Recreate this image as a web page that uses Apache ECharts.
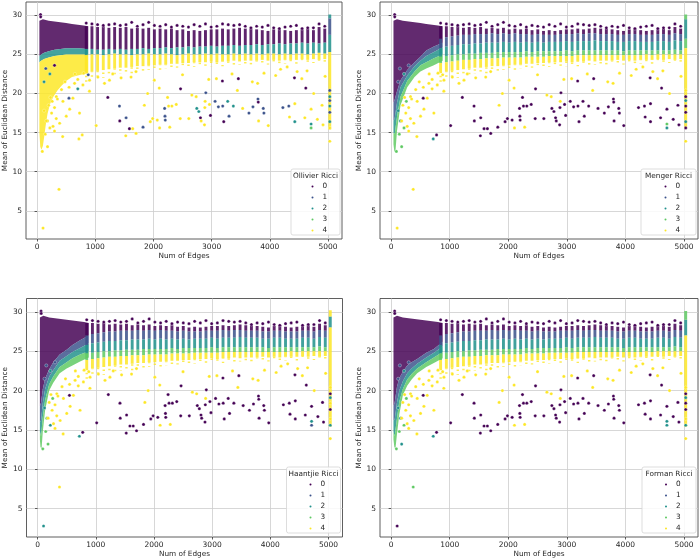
<!DOCTYPE html>
<html>
<head>
<meta charset="UTF-8">
<title>Mean of Euclidean Distance vs Num of Edges</title>
<script src="https://cdn.jsdelivr.net/npm/echarts@6/dist/echarts.min.js"></script>
<style>html,body{margin:0;padding:0;background:#fff;}</style>
</head>
<body>
<div id="chart" style="width:700px;height:560px;"></div>
<script>
// ---------- values ----------
var classes = ['0', '1', '2', '3', '4'];
var panelTitles = ['Ollivier Ricci', 'Menger Ricci', 'Haantjie Ricci', 'Forman Ricci'];
var xTicks = [0, 1000, 2000, 3000, 4000, 5000];
var yTicks = [5, 10, 15, 20, 25, 30];

// the vertical strips of points (one strip per edge count, x >= ~850)
var colX = [845,943,1040,1138,1235,1333,1430,1528,1626,1723,1821,1918,2016,2114,2211,2309,2406,2504,2602,2699,
  2797,2894,2992,3090,3187,3285,3382,3480,3578,3675,3773,3870,3968,4066,4163,4261,4358,4456,4554,4651,4749,4846,4944];
var colTop = [28.6,28.6,28.5,28.6,28.4,28.5,28.4,28.5,28.3,28.4, 28.3,28.4,28.2,28.3,28.2,28.3,28.1,28.2,28.0,28.1,
  28.0,28.1,28.2,28.2,28.3,28.2,28.3,28.4,28.3,28.3, 28.2,28.1,28.0,28.2,28.3,28.1,28.0,28.1,28.2,28.3, 28.1,28.5,28.3];
var colPeak = [29.0,28.9,28.8,28.7,28.8,28.9,28.7,28.8,29.1,28.6, 28.8,29.1,28.7,28.6,28.8,28.5,28.7,28.6,28.5,28.8,
  28.6,28.9,28.5,28.6,28.9,28.8,28.7,28.8,28.6,28.4, 28.6,28.5,28.7,28.4,28.3,28.5,28.6,28.7,28.3,28.4, 28.4,28.9,28.6];
var colBot = [22.6,22.8,22.9,23.0,23.1,23.2,23.3,23.3,23.4,23.5, 23.5,23.6,23.6,23.7,23.7,23.8,23.8,23.9,23.9,24.0,
  24.0,24.0,24.1,24.0,24.1,24.1,24.2,24.1,24.2,24.2, 24.2,24.3,24.2,24.3,24.2,24.3,24.3,24.3,24.4,24.3, 24.4,24.3,24.4];
var colTail = [21.5,21.8,22.0,22.0,22.3,22.4,22.5,22.6,22.6,22.8, 22.8,23.0,23.0,23.0,23.2,23.2,23.3,23.3,23.4,23.4,
  23.5,23.5,23.5,23.6,23.5,23.6,23.6,23.7,23.6,23.7, 23.7,23.8,23.7,23.8,23.8,23.8,23.9,23.8,23.9,23.9, 23.9,23.9,24.0];

// Ollivier: where class 0 ends and where class 4 starts in each strip
var p1ColB0 = [25.7,25.7,25.6,25.6,25.7,25.6,25.7,25.6,25.7,25.7, 25.8,25.7,25.8,25.8,25.9,25.8,25.9,25.9,26.0,25.9,
  26.0,26.0,26.1,26.0,26.1,26.1,26.2,26.1,26.2,26.2, 26.3,26.2,26.3,26.3,26.4,26.3,26.4,26.4,26.5,26.4, 26.5,26.4,26.5];
var p1ColB3 = [24.9,25.0,25.0,24.9,25.0,25.1,25.0,25.0,24.9,25.0, 25.0,25.1,25.0,25.0,25.1,25.0,24.9,25.0,25.1,25.0,
  25.0,25.1,25.0,25.1,25.0,25.0,25.1,25.0,25.1,25.0, 25.1,25.0,25.1,25.1,25.0,25.1,25.0,25.1,25.1,25.0, 25.1,25.2,25.1];
// Menger / Haantjie / Forman: class borders inside each strip (0|1, 1|2, 2|3, 3|4)
var ricciColB0 = [27.0,27.2,27.3,27.4,27.5,27.5,27.6,27.6,27.6,27.7, 27.6,27.7,27.6,27.7,27.6,27.6,27.5,27.6,27.5,27.5,
  27.5,27.6,27.6,27.6,27.7,27.6,27.7,27.7,27.6,27.6, 27.6,27.5,27.5,27.6,27.6,27.5,27.5,27.5,27.6,27.6, 27.5,27.7,27.6];
var ricciColB1 = [25.8,26.0,26.1,26.2,26.3,26.3,26.4,26.4,26.5,26.5, 26.5,26.6,26.5,26.6,26.5,26.6,26.5,26.6,26.5,26.6,
  26.6,26.6,26.7,26.6,26.7,26.7,26.7,26.8,26.7,26.7, 26.7,26.6,26.6,26.7,26.7,26.6,26.6,26.6,26.7,26.7, 26.6,26.8,26.7];
var ricciColB2 = [24.7,24.8,24.9,25.0,25.0,25.1,25.1,25.2,25.2,25.2, 25.3,25.3,25.3,25.3,25.3,25.4,25.3,25.4,25.4,25.4,
  25.4,25.4,25.5,25.4,25.5,25.5,25.5,25.5,25.5,25.5, 25.5,25.5,25.4,25.5,25.5,25.5,25.5,25.5,25.5,25.5, 25.5,25.6,25.5];
var ricciColB3 = [23.9,24.0,24.1,24.2,24.3,24.3,24.4,24.4,24.5,24.5, 24.5,24.6,24.6,24.6,24.6,24.7,24.7,24.7,24.7,24.8,
  24.8,24.8,24.8,24.8,24.9,24.9,24.9,24.9,24.9,24.9, 24.9,24.9,24.9,24.9,24.9,24.9,25.0,24.9,25.0,25.0, 25.0,25.0,25.0];

// the last, tall strip at ~5030 edges: [class, from, to]
var specX = 5030;
var p1Spec = [[4, 15.4, 25.3], [2, 25.3, 27.5], [1, 27.5, 29.6], [2, 29.6, 30.1]];
var p2Spec = [[4, 15.5, 25.8], [3, 25.8, 27.0], [2, 27.0, 29.5], [3, 29.5, 30.1]];
var p3Spec = [[4, 15.4, 28.0], [2, 28.0, 29.4], [4, 29.4, 30.2]];
var p4Spec = [[4, 15.4, 27.0], [2, 27.0, 29.0], [3, 29.0, 30.1]];

// the dense cloud below ~880 edges: top edge, then lower edge of each class band
var denseTop = [[40,29.3],[100,29.5],[200,29.3],[300,29.2],[400,29.1],[500,29.0],[600,28.9],[700,28.8],[800,28.7],[880,28.6]];
var p1DenseCls = [0, 2, 4];
var p1DenseLow = [
  [[40,24.8],[70,25.0],[120,25.2],[200,25.4],[300,25.6],[500,25.8],[700,25.8],[880,25.7]],
  [[40,24.0],[70,24.2],[120,24.4],[200,24.6],[300,24.8],[500,25.0],[700,25.0],[880,25.0]],
  [[40,15.0],[55,13.2],[75,12.8],[100,13.3],[125,14.6],[150,16.0],[180,17.4],[220,18.6],[280,19.6],[350,20.4],
   [420,21.0],[500,21.6],[600,22.1],[750,22.4],[880,22.6]]
];
var ricciDenseCls = [0, 1, 2, 3];
var p2DenseLow = [
  [[40,18.8],[60,19.2],[100,20.3],[160,21.7],[275,23.0],[400,24.0],[500,24.7],[600,25.5],[730,26.0],[880,26.5]],
  [[40,16.5],[60,16.8],[100,18.8],[160,20.8],[275,22.3],[400,23.5],[500,24.2],[600,24.8],[730,25.3],[880,25.9]],
  [[40,15.0],[60,14.8],[100,17.0],[160,19.6],[275,21.6],[400,22.8],[500,23.6],[600,24.0],[730,24.5],[880,25.0]],
  [[40,13.5],[55,12.6],[75,12.7],[100,15.2],[160,18.5],[275,20.8],[400,22.1],[500,22.8],[600,23.2],[730,23.6],[880,24.2]]
];
var p3DenseLow = [
  [[40,18.0],[60,18.5],[90,20.2],[130,21.5],[200,22.7],[270,23.6],[380,24.6],[500,25.2],[600,25.8],[730,26.4],[880,27.0]],
  [[40,16.0],[60,16.2],[90,18.4],[130,20.2],[200,21.8],[270,22.6],[380,23.8],[500,24.4],[600,24.9],[730,25.4],[880,26.0]],
  [[40,14.8],[60,14.2],[90,16.6],[130,18.8],[200,20.8],[270,21.8],[380,23.0],[500,23.6],[600,24.1],[730,24.6],[880,25.0]],
  [[40,13.8],[50,12.8],[70,12.7],[90,14.8],[130,17.5],[200,20.0],[270,21.0],[380,22.2],[500,22.8],[600,23.2],[730,23.7],[880,24.2]]
];
var p4DenseLow = [
  [[40,18.0],[60,18.5],[100,20.5],[140,21.6],[200,22.4],[274,23.2],[350,23.6],[445,24.0],[600,24.8],[730,25.3],[880,26.2]],
  [[40,16.2],[60,16.3],[100,18.5],[140,20.0],[200,21.2],[274,22.2],[350,22.8],[445,23.4],[600,24.2],[730,24.8],[880,25.6]],
  [[40,14.8],[60,14.2],[100,16.5],[140,18.6],[200,20.2],[274,21.4],[350,22.1],[445,22.8],[600,23.6],[730,24.2],[880,24.9]],
  [[40,13.8],[55,12.8],[75,12.7],[100,14.5],[140,17.0],[200,19.4],[274,20.6],[350,21.4],[445,22.2],[600,23.0],[730,23.5],[880,24.1]]
];

// single scattered points: [x, y, class in Ollivier, Menger, Haantjie, Forman]
var darkPts = [
  [548,19.4,1,0,0,0],[776,14.7,4,0,0,0],[1016,15.9,4,0,0,0],[1216,19.5,0,0,0,0],[1416,18.4,1,0,0,0],
  [1421,16.5,0,0,0,0],[1530,16.9,1,0,0,0],[1524,14.6,4,0,0,0],[1587,15.5,0,0,0,0],[1644,15.5,4,0,0,0],
  [1701,14.9,4,0,0,0],[1821,15.7,1,0,0,0],[1946,16.4,4,0,0,0],[1986,16.8,4,0,0,0],[2066,16.6,4,0,0,0],
  [2192,18.1,1,0,0,0],[2198,17.1,1,0,0,0],[2203,16.6,1,0,0,0],[2243,19.5,4,0,0,0],[2260,18.4,4,0,0,0],
  [2317,18.4,4,0,0,0],[2392,18.6,4,0,0,0],[2466,20.6,0,0,0,0],[2460,16.8,4,0,0,0],[2608,16.8,4,0,0,0],
  [2745,18.1,2,0,0,0],[2780,17.7,2,0,0,0],[2808,16.9,0,0,0,0],[2820,16.5,4,0,0,0],[2877,16.0,4,0,0,0],
  [2883,18.2,4,0,0,0],[2900,20.1,1,0,0,0],[2962,18.6,4,0,0,0],[2980,17.2,0,0,0,0],[3059,19.0,1,0,0,0],
  [3116,18.3,1,0,0,0],[3185,21.6,0,0,0,0],[3190,18.4,1,0,0,0],[3208,16.4,0,0,0,0],[3276,19.0,2,0,0,0],
  [3299,17.1,1,0,0,0],[3373,18.4,2,0,0,0],[3459,21.9,0,0,0,0],[3533,18.1,4,0,0,0],[3641,17.5,1,0,0,0],
  [3710,18.3,1,0,0,0],[3796,19.3,1,0,0,0],[3801,18.9,0,0,0,0],[3807,16.5,4,0,0,0],[3887,18.1,1,0,0,0],
  [3898,17.5,1,0,0,0],[3973,15.9,4,0,0,0],[4224,18.2,1,0,0,0],[4326,18.4,1,0,0,0],[4338,17.0,4,0,0,0],
  [4423,22.0,0,0,0,0],[4429,16.4,2,0,0,0],[4429,18.7,4,0,0,0],[4618,20.7,0,0,0,0],[4601,16.9,4,0,0,0],
  [4709,18.0,4,0,0,0],[4709,16.1,2,3,2,2],[4709,15.6,3,2,1,2],[4817,16.7,4,0,0,0],[4897,18.5,4,0,0,0],
  [4914,16.0,4,0,0,0],[103,2.8,4,4,2,0],[377,7.75,4,4,4,3],[60,30.1,0,0,0,0],[62,29.8,0,0,0,0]
];
var yellowPts = [
  [331,19.6,4,4,4,4],[445,19.0,4,4,4,4],[502,17.1,4,4,4,4],[616,19.4,4,4,4,4],[730,17.5,4,4,4,4],
  [388,16.2,4,4,4,4],[274,15.8,4,4,4,4],[440,14.5,4,4,4,4],[645,21.3,4,4,4,4],[788,21.1,4,4,4,4],
  [902,21.7,4,4,4,4],[1045,22.1,4,4,4,4],[1159,21.3,4,4,4,4],[1244,21.7,4,4,4,4],[1444,22.0,4,4,4,4],
  [1615,22.1,4,4,4,4],[1844,18.5,4,4,4,4],[2015,21.7,4,4,4,4],[2106,15.6,4,4,4,4],[2100,20.7,4,4,4,4],
  [2660,19.8,4,4,4,4],[2734,19.6,4,4,4,4],[2888,19.0,4,4,4,4],[3082,21.9,4,4,4,4],[3442,20.4,4,4,4,4],
  [3699,21.5,4,4,4,4],[3790,21.3,4,4,4,4],[4184,23.1,4,4,4,4],[4298,23.4,4,4,4,4],[4469,22.8,4,4,4,4],
  [4640,22.9,4,4,4,4],[4754,20.0,4,4,4,4],[200,18.5,4,4,4,4],[250,17.5,4,4,4,4],[300,18.2,4,4,4,4],
  [350,19.3,4,4,4,4],[420,20.5,4,4,4,4],[480,21.5,4,4,4,4],[550,20.8,4,4,4,4],[650,22.5,4,4,4,4],
  [700,21.8,4,4,4,4],[800,22.6,4,4,4,4],[180,16.5,4,4,4,4],[230,19.5,4,4,4,4],[300,15.2,4,4,4,4],
  [330,16.8,4,4,4,4],[560,18.0,4,4,4,4],[900,20.3,4,4,4,4],[1300,22.5,4,4,4,4],[1700,22.8,4,4,4,4],
  [2280,15.7,4,4,4,4],[1900,20.0,4,4,4,4],[2500,22.4,4,4,4,4],[2950,21.8,4,4,4,4],[3350,22.5,4,4,4,4],
  [3900,22.6,4,4,4,4],[4100,22.3,4,4,4,4],[4550,21.9,4,4,4,4],[4950,22.2,4,4,4,4]
];
var mixPts = [
  [140,14.8,4,3,3,3],[180,13.2,4,3,3,2],[220,15.6,4,3,2,3],[160,16.5,4,2,3,2],[90,12.6,4,3,3,3],
  [719,14.2,4,2,2,2],[120,17.8,4,2,2,2],[260,19.0,4,3,3,3],[150,23.2,1,1,1,1],[220,22.5,2,2,2,2],
  [300,23.6,0,1,1,1],[120,21.5,2,1,1,1],[700,20.6,2,4,4,4],[880,22.4,1,4,4,4]
];
var specPts = [
  [5030,20.4,1,4,4,4],[5030,19.6,2,0,0,0],[5030,19.1,1,2,2,2],[5030,18.4,2,0,4,0],
  [5030,17.6,1,0,0,0],[5030,16.4,2,2,4,4],[5030,15.6,4,0,2,2],[5030,13.9,4,4,4,4]
];

// ---------- layout / style ----------
var viridis = ['#440154', '#3b528b', '#21918c', '#5ec962', '#fde725'];
var FONT = 'DejaVu Sans';
var grids = [
  {left: 26, top: 2, width: 316, height: 237},
  {left: 380, top: 2, width: 318, height: 237},
  {left: 26.5, top: 298.5, width: 316, height: 238.5},
  {left: 380, top: 298.5, width: 318, height: 238.5}
];
var legendW = [49, 55, 54, 54];

var panels = [
  {denseCls: p1DenseCls, denseLow: p1DenseLow, colCls: [0, 2, 4], colB: [p1ColB0, p1ColB3], spec: p1Spec},
  {denseCls: ricciDenseCls, denseLow: p2DenseLow, colCls: [0, 1, 2, 3, 4], colB: [ricciColB0, ricciColB1, ricciColB2, ricciColB3], spec: p2Spec},
  {denseCls: ricciDenseCls, denseLow: p3DenseLow, colCls: [0, 1, 2, 3, 4], colB: [ricciColB0, ricciColB1, ricciColB2, ricciColB3], spec: p3Spec},
  {denseCls: ricciDenseCls, denseLow: p4DenseLow, colCls: [0, 1, 2, 3, 4], colB: [ricciColB0, ricciColB1, ricciColB2, ricciColB3], spec: p4Spec}
];

function scatterSeries(p, cls, data) {
  return {
    type: 'scatter', name: classes[cls], xAxisIndex: p, yAxisIndex: p, z: 4,
    symbol: 'circle', symbolSize: 3.2, silent: true,
    itemStyle: {color: viridis[cls], borderColor: '#fff', borderWidth: 0.3, opacity: 1},
    data: data
  };
}

function stripSeries(p, cls, data, dash, width, alpha) {
  return {
    type: 'custom', name: classes[cls], xAxisIndex: p, yAxisIndex: p, z: 3, silent: true, clip: true,
    itemStyle: {color: viridis[cls]},
    encode: {x: 0, y: [1, 2]},
    data: data,
    renderItem: function (params, api) {
      var a = api.coord([api.value(0), api.value(1)]);
      var b = api.coord([api.value(0), api.value(2)]);
      return {
        type: 'line',
        shape: {x1: a[0], y1: a[1], x2: b[0], y2: b[1]},
        style: {stroke: viridis[cls], lineWidth: width, lineDash: dash,
          lineDashOffset: dash ? (params.dataIndex * 1.7) % 4.5 : 0, opacity: alpha}
      };
    }
  };
}

function cloudSeries(p, cls, pts) {
  return {
    type: 'custom', name: classes[cls], xAxisIndex: p, yAxisIndex: p, z: 2, silent: true, clip: true,
    itemStyle: {color: viridis[cls]},
    data: [pts[0]],
    renderItem: function (params, api) {
      return {
        type: 'polygon',
        shape: {points: pts.map(function (v) { return api.coord(v); })},
        style: {fill: viridis[cls], opacity: 0.84}
      };
    }
  };
}

var allPts = darkPts.concat(yellowPts, mixPts, specPts);
var series = [];
var tail = [];
colX.forEach(function (x, i) { tail.push([x, colTail[i], colBot[i]]); });

panels.forEach(function (pan, p) {
  // single points
  for (var c = 0; c < 5; c++) {
    var pts = allPts.filter(function (r) { return r[2 + p] === c; })
      .map(function (r) { return [r[0], r[1]]; });
    if (c === 0) colX.forEach(function (x, i) { pts.push([x, colPeak[i]]); });
    series.push(scatterSeries(p, c, pts));
  }
  // strips
  var bounds = [colTop].concat(pan.colB, [colBot]);
  pan.colCls.forEach(function (cls, k) {
    var data = colX.map(function (x, i) { return [x, bounds[k + 1][i], bounds[k][i]]; });
    pan.spec.forEach(function (s) { if (s[0] === cls) data.push([specX, s[1], s[2]]); });
    series.push(stripSeries(p, cls, data, null, 2.9, 0.86));
  });
  pan.spec.forEach(function (s) {
    if (pan.colCls.indexOf(s[0]) < 0) series.push(stripSeries(p, s[0], [[specX, s[1], s[2]]], null, 2.9, 0.86));
  });
  series.push(stripSeries(p, 4, tail, [1.5, 3], 2.4, 0.8));
  // dense cloud
  pan.denseCls.forEach(function (cls, k) {
    var upper = k === 0 ? denseTop : pan.denseLow[k - 1];
    var lower = pan.denseLow[k].slice().reverse();
    series.push(cloudSeries(p, cls, upper.concat(lower)));
  });
});

function tickFmt(list) {
  return function (v) { return list.indexOf(Math.round(v)) >= 0 ? String(Math.round(v)) : ''; };
}

var axisText = {fontSize: 7.5, color: '#262626', fontFamily: FONT};
var nameText = {fontSize: 7.3, color: '#262626', fontFamily: FONT};

var xAxes = grids.map(function (g, p) {
  return {
    gridIndex: p, type: 'value', min: -190, max: 5240, minInterval: 1000, maxInterval: 1000,
    name: 'Num of Edges', nameLocation: 'middle', nameGap: 14, nameTextStyle: nameText,
    axisLine: {show: false},
    axisTick: {show: true, length: 2.5, customValues: xTicks, lineStyle: {color: '#333', width: 0.8}},
    axisLabel: Object.assign({margin: 4, customValues: xTicks, formatter: tickFmt(xTicks)}, axisText),
    splitLine: {show: true, lineStyle: {color: '#cdcdcd', width: 0.8}}
  };
});
var yAxes = grids.map(function (g, p) {
  return {
    gridIndex: p, type: 'value', min: 1.4, max: 31.7, minInterval: 5, maxInterval: 5,
    name: 'Mean of Euclidean Distance', nameLocation: 'middle', nameGap: 17, nameTextStyle: nameText,
    axisLine: {show: false},
    axisTick: {show: true, length: 2.5, customValues: yTicks, lineStyle: {color: '#333', width: 0.8}},
    axisLabel: Object.assign({margin: 4, customValues: yTicks, formatter: tickFmt(yTicks)}, axisText),
    splitLine: {show: true, lineStyle: {color: '#cdcdcd', width: 0.8}}
  };
});

var legends = [];
var graphics = [];
grids.forEach(function (g, p) {
  var bw = legendW[p], bh = 66;
  var bx = g.left + g.width - 2 - bw;
  var by = g.top + g.height - 4 - bh;
  graphics.push({
    type: 'rect', z: 20, shape: {x: bx, y: by, width: bw, height: bh, r: 2},
    style: {fill: 'rgba(255,255,255,0.85)', stroke: '#d4d4d4', lineWidth: 0.8}
  });
  graphics.push({
    type: 'text', z: 21, x: bx + bw / 2, y: by + 7.5,
    style: {text: panelTitles[p], align: 'center', verticalAlign: 'middle', fontSize: 7.3, fontFamily: FONT, fill: '#262626'}
  });
  legends.push({
    left: bx + bw / 2 - 6, top: by + 12, orient: 'vertical', z: 22,
    itemWidth: 4, itemHeight: 4, itemGap: 0, padding: 0, selectedMode: false,
    icon: 'circle', data: classes,
    textStyle: {fontSize: 7.3, lineHeight: 11, color: '#262626', fontFamily: FONT, padding: [0, 0, 0, 3]}
  });
});

var chart = echarts.init(document.getElementById('chart'), null, {renderer: 'canvas'});
chart.setOption({
  animation: false,
  backgroundColor: '#fff',
  textStyle: {fontFamily: FONT},
  grid: grids.map(function (g) {
    return Object.assign({show: true, borderColor: '#4d4d4d', borderWidth: 0.9, backgroundColor: 'transparent'}, g);
  }),
  xAxis: xAxes,
  yAxis: yAxes,
  legend: legends,
  graphic: graphics,
  series: series
});
</script>
</body>
</html>
